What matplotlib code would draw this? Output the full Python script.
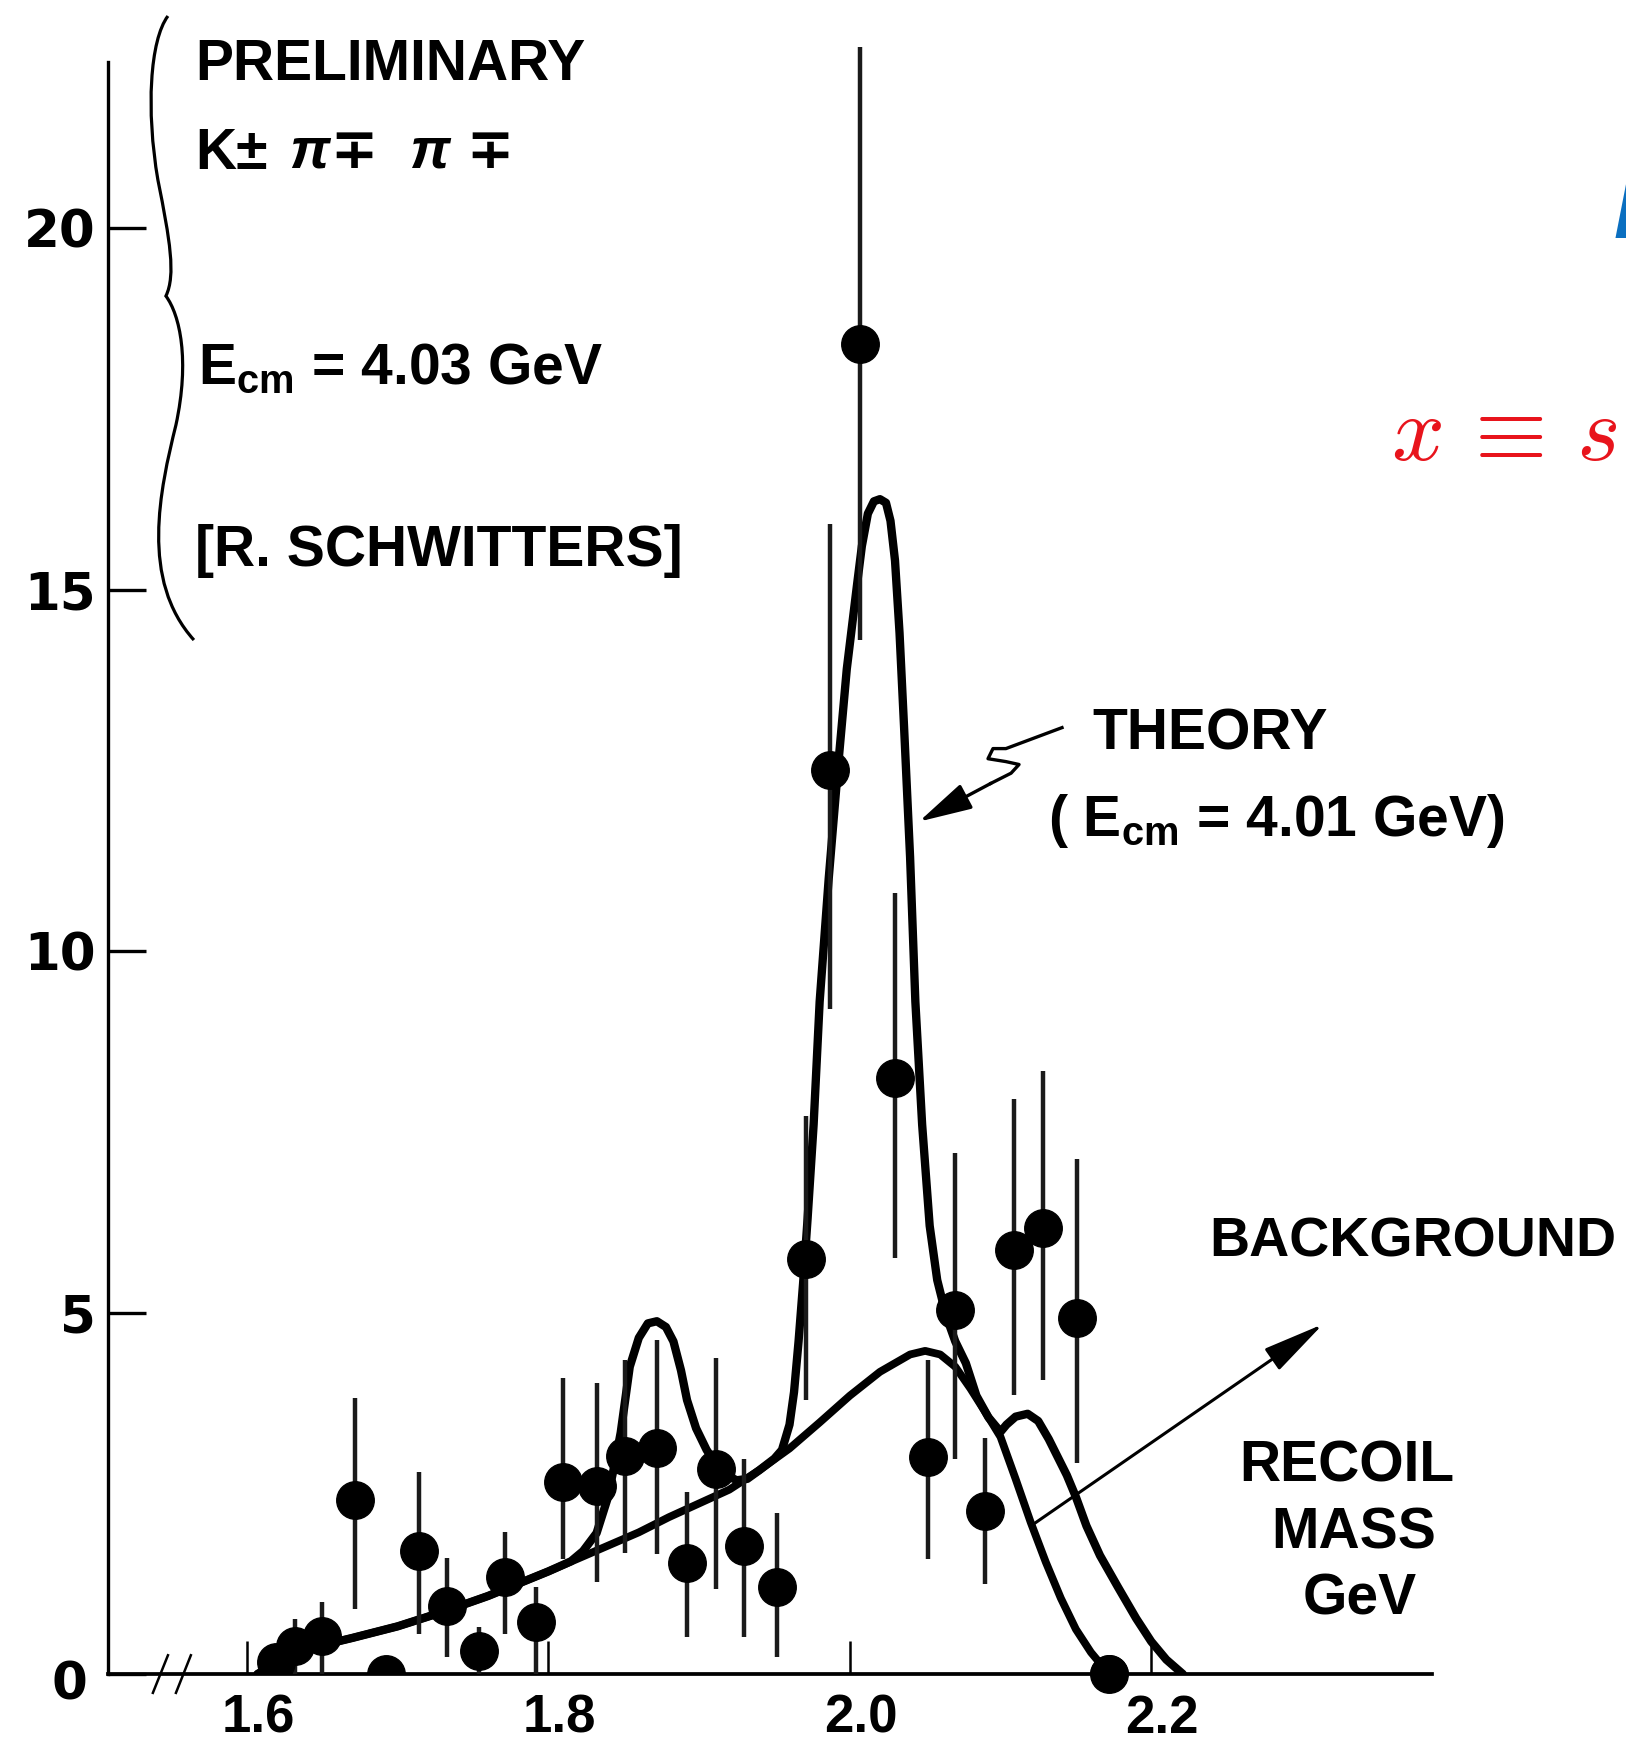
import numpy as np
import matplotlib
matplotlib.use("Agg")
import matplotlib.pyplot as plt
from matplotlib.path import Path
from matplotlib.patches import PathPatch
from matplotlib.transforms import ScaledTranslation

# recoil mass (GeV) and events per bin
mass = [1.619, 1.632, 1.650, 1.672, 1.692, 1.714, 1.733, 1.754, 1.771, 1.792,
        1.810, 1.832, 1.851, 1.872, 1.892, 1.911, 1.930, 1.952,
        1.971, 1.987, 2.007, 2.030, 2.052, 2.070, 2.090, 2.109, 2.128, 2.151, 2.172]
counts = [0.16, 0.39, 0.52, 2.41, 0.0, 1.70, 0.94, 0.32, 1.34, 0.72,
          2.66, 2.60, 3.01, 3.13, 1.54, 2.83, 1.77, 1.21,
          5.74, 12.5, 18.4, 8.25, 3.00, 5.03, 2.25, 5.86, 6.17, 4.92, 0.0]
err_lo = [0.0, 0.39, 0.52, 1.51, 0.0, 1.15, 0.71, 0.32, 0.79, 0.72,
          1.07, 1.32, 1.33, 1.47, 1.03, 1.66, 1.26, 0.98,
          1.95, 3.3, 4.1, 2.5, 1.41, 2.05, 1.0, 2.0, 2.1, 2.0, 0.0]
err_hi = [0.0, 0.37, 0.47, 1.41, 0.0, 1.10, 0.67, 0.33, 0.63, 0.49,
          1.44, 1.43, 1.34, 1.49, 0.98, 1.54, 1.20, 1.02,
          1.98, 3.4, 4.1, 2.55, 1.35, 2.17, 1.02, 2.1, 2.17, 2.2, 0.0]

# background curve
bkg_x = [1.607, 1.625, 1.65, 1.67, 1.70, 1.73, 1.76, 1.78, 1.80, 1.82, 1.84, 1.86,
         1.88, 1.90, 1.92, 1.94, 1.96, 1.98, 2.00, 2.02, 2.04, 2.05, 2.06, 2.07,
         2.08, 2.09, 2.10, 2.11, 2.12, 2.13, 2.14, 2.15, 2.16, 2.172]
bkg_y = [0.0, 0.22, 0.40, 0.50, 0.66, 0.86, 1.08, 1.25, 1.42, 1.60, 1.78, 1.96,
         2.17, 2.36, 2.55, 2.82, 3.12, 3.48, 3.85, 4.18, 4.42, 4.47, 4.42, 4.25,
         3.95, 3.62, 3.28, 2.70, 2.10, 1.55, 1.05, 0.62, 0.30, 0.0]

# theory curve (E_cm = 4.01 GeV)
theory_x = [1.607, 1.625, 1.65, 1.67, 1.70, 1.73, 1.76, 1.78, 1.80, 1.815,
            1.823, 1.832, 1.839, 1.844, 1.848, 1.854, 1.860, 1.866, 1.872, 1.878,
            1.883, 1.888, 1.892, 1.898, 1.905, 1.912, 1.918, 1.925, 1.932, 1.940,
            1.950, 1.955, 1.960, 1.963, 1.966, 1.969, 1.972, 1.976, 1.980, 1.986,
            1.992, 1.998, 2.005, 2.008, 2.012, 2.016, 2.020, 2.024, 2.027, 2.030,
            2.033, 2.036, 2.040, 2.0435, 2.048, 2.053, 2.058, 2.064, 2.070, 2.077,
            2.084, 2.092, 2.100, 2.104, 2.110, 2.118, 2.125, 2.132, 2.138, 2.144,
            2.150, 2.157, 2.166, 2.178, 2.190, 2.200, 2.210, 2.221]
theory_y = [0.0, 0.22, 0.40, 0.50, 0.66, 0.86, 1.08, 1.25, 1.42, 1.56,
            1.70, 1.95, 2.41, 2.90, 3.34, 4.25, 4.65, 4.85, 4.88, 4.80,
            4.60, 4.20, 3.79, 3.40, 3.10, 2.88, 2.75, 2.68, 2.70, 2.82,
            2.98, 3.10, 3.45, 3.90, 4.60, 5.40, 6.30, 7.60, 9.30, 11.0,
            12.5, 13.9, 15.1, 15.6, 16.05, 16.22, 16.25, 16.2, 15.95, 15.4,
            14.4, 13.1, 11.3, 9.3, 7.6, 6.2, 5.45, 4.95, 4.60, 4.30,
            3.85, 3.55, 3.35, 3.45, 3.56, 3.60, 3.50, 3.25, 3.00, 2.75,
            2.45, 2.05, 1.64, 1.20, 0.77, 0.45, 0.20, 0.0]

plt.rcParams['font.family'] = ['Liberation Sans', 'DejaVu Sans']
plt.rcParams['font.weight'] = 'bold'
plt.rcParams['mathtext.fontset'] = 'custom'
plt.rcParams['mathtext.rm'] = 'Liberation Sans:bold'
plt.rcParams['mathtext.it'] = 'Liberation Sans:italic:bold'

fig = plt.figure(figsize=(16.26, 17.48), dpi=100)
ax = fig.add_axes([0.0664, 0.0423, 0.8143, 0.9348])

ax.plot(bkg_x, bkg_y, color='black', lw=5.6, solid_capstyle='round',
        solid_joinstyle='round', zorder=3)
ax.plot(theory_x, theory_y, color='black', lw=6.0, solid_capstyle='round',
        solid_joinstyle='round', zorder=3)

ax.errorbar(mass, counts, yerr=[err_lo, err_hi], fmt='o', color='black',
            ms=27, ecolor='#1a1a1a', elinewidth=3.2, capsize=0, zorder=4)
# last point sits on the axis, drawn whole in the original
ax.plot(mass[-1], counts[-1], 'o', color='black', ms=27, clip_on=False, zorder=5)

ax.set_xlim(1.5078, 2.3863)
ax.set_ylim(0, 22.6)
for s in ['top', 'right']:
    ax.spines[s].set_visible(False)
ax.spines['left'].set_linewidth(2.4)
ax.spines['left'].set_bounds(0, 22.3)
ax.spines['bottom'].set_linewidth(2.7)

ax.set_yticks([0, 5, 10, 15, 20])
ax.set_yticklabels(['0', '5', '10', '15', '20'], family='DejaVu Sans', fontweight='bold')
ax.set_xticks([1.6, 1.8, 2.0, 2.2])
ax.set_xticklabels(['1.6', '1.8', '2.0', '2.2'])
ax.tick_params(axis='y', direction='in', length=27, width=2.4, pad=9, labelsize=37)
ax.tick_params(axis='x', direction='in', length=24, width=1.8, pad=14, labelsize=38)
shift = ScaledTranslation(11 / 100, 0, fig.dpi_scale_trans)
for lab in ax.get_xticklabels():
    lab.set_transform(lab.get_transform() + shift)
ylabs = ax.get_yticklabels()
ylabs[0].set_transform(ylabs[0].get_transform() + ScaledTranslation(-8 / 100, -6 / 100, fig.dpi_scale_trans))

# axis break
ax.plot([1.5376, 1.5476], [-0.26, 0.26], color='black', lw=1.8, clip_on=False)
ax.plot([1.5529, 1.5628], [-0.26, 0.26], color='black', lw=1.8, clip_on=False)


def px(x, y):
    # full-size pixel position of the scan -> data units
    return (1.6 + (x - 247) / 1507, (1674 - y) / 72.3)


# curly brace around the run info
brace_pts = [(168, 16), (150, 40), (146, 110), (158, 180),
             (170, 240), (176, 275), (166, 296),
             (180, 315), (190, 360), (176, 425),
             (160, 490), (140, 580), (194, 640)]
codes = [Path.MOVETO] + [Path.CURVE4] * 12
brace = Path([px(*p) for p in brace_pts], codes)
ax.add_patch(PathPatch(brace, fc='none', ec='black', lw=2.3, clip_on=False))

fs = 41
ax.text(1.5655, 22.05, 'PRELIMINARY', fontsize=fs, va='baseline')
ax.text(1.5655, 20.82, 'K±', fontsize=fs, va='baseline')
ax.text(1.6285, 20.82, 'π∓  π ∓', fontsize=fs, va='baseline', fontstyle='italic')
ax.text(1.5675, 17.84, r'$\mathregular{E_{cm}}$ = 4.03 GeV', fontsize=fs, va='baseline')
ax.text(1.5655, 15.32, '[R. SCHWITTERS]', fontsize=fs, va='baseline')

ax.text(2.1607, 12.79, 'THEORY', fontsize=fs, va='baseline')
ax.text(2.1315, 11.59, r'( $\mathregular{E_{cm}}$ = 4.01 GeV)', fontsize=fs, va='baseline')
ax.text(2.2383, 5.78, 'BACKGROUND', fontsize=fs - 1, va='baseline')
ax.text(2.330, 2.66, 'RECOIL', fontsize=fs, va='baseline', ha='center')
ax.text(2.334, 1.73, 'MASS', fontsize=fs, va='baseline', ha='center')
ax.text(2.338, 0.83, 'GeV', fontsize=fs, va='baseline', ha='center')

# squiggly pointer from THEORY to the curve
zig_x = [2.1408, 2.1036, 2.0950, 2.0917, 2.1036, 2.1123, 2.1070, 2.0937]
zig_y = [13.09, 12.80, 12.80, 12.66, 12.62, 12.58, 12.46, 12.32]
ax.plot(zig_x, zig_y, color='black', lw=2.4, solid_joinstyle='round')
ax.annotate('', xy=(2.0459, 11.79), xytext=(2.0937, 12.32),
            arrowprops=dict(arrowstyle='-|>,head_length=1.1,head_width=0.28',
                            lw=2.4, color='black', mutation_scale=30, shrinkA=0, shrinkB=0))

# background pointer
ax.annotate('', xy=(2.314, 4.84), xytext=(2.1216, 2.07),
            arrowprops=dict(arrowstyle='-|>,head_length=1.2,head_width=0.25',
                            lw=2.2, color='black', mutation_scale=32, shrinkA=0, shrinkB=0))

# pieces of the slide around the figure
fig.text(1391 / 1626, 1 - 460 / 1748, r'$x\,\equiv\,s$', fontsize=67, color='#e8141c',
         math_fontfamily='cm', va='baseline')
fig.text(1614 / 1626, 1 - 238 / 1748, 'D', fontsize=60, color='#0b6fc0',
         fontstyle='italic', fontweight='bold', va='baseline')

fig.savefig('out.png', dpi=100)
